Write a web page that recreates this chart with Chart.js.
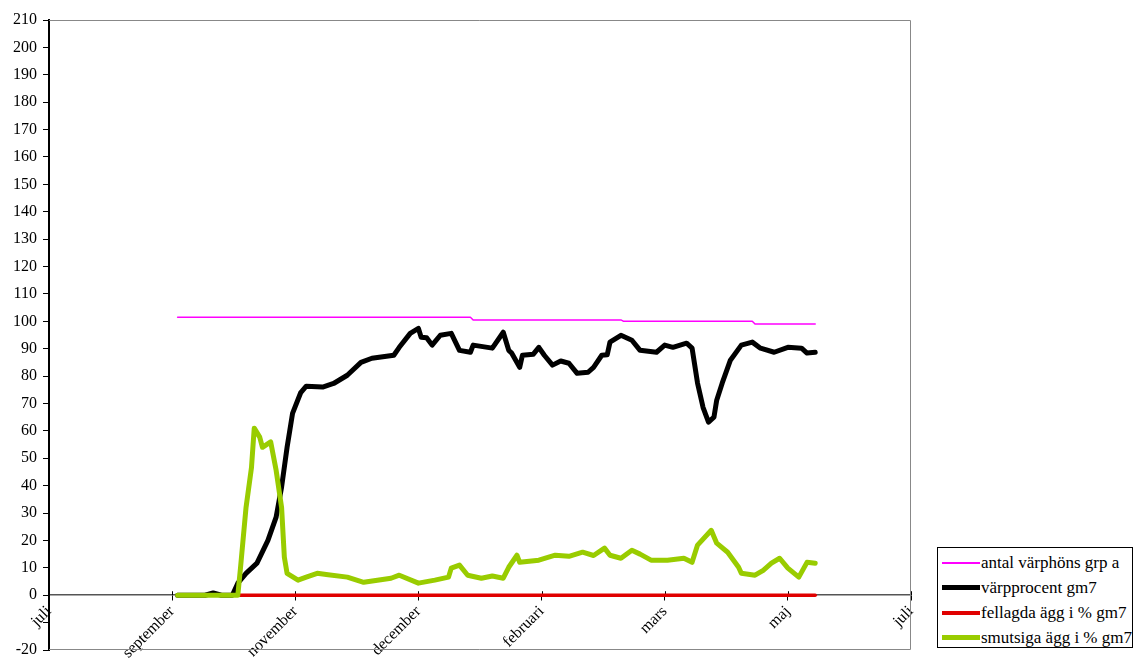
<!DOCTYPE html>
<html lang="sv">
<head>
    <meta charset="UTF-8">
    <title>Värpprocent</title>
    <script src="https://cdn.jsdelivr.net/npm/chart.js"></script>
    <style>
        body { margin: 0; background: #fff; font-family: "Liberation Serif", serif; }
        #wrap { position: relative; width: 1135px; height: 668px; }
        #legend {
            position: absolute; left: 937px; top: 547px; width: 196px; height: 101px;
            border: 1px solid #000; background: #fff; box-sizing: border-box;
            font-family: "Liberation Serif", serif; font-size: 17px; color: #000;
            padding-top: 2px;
        }
        .row { display: flex; align-items: center; height: 25px; white-space: nowrap; }
        .swatch { display: inline-block; width: 38px; margin-left: 4px; margin-right: 1px; }
    </style>
</head>
<body>
    <div id="wrap">
        <canvas id="myChart"></canvas>
        <div id="legend"></div>
    </div>

    <script>
        // x axis: one tick every 45 days
        var tickLabels = ['juli', 'september', 'november', 'december', 'februari', 'mars', 'maj', 'juli'];
        var dayStep = 45;

        var flockDays  = [47, 154, 155, 209, 210, 257, 258, 280];
        var flockCount = [101.5, 101.5, 100.5, 100.5, 100, 100, 99, 99];

        var layDays = [47, 57, 60, 63, 67, 69, 72, 76, 80, 83, 85, 87, 89, 92, 94, 100, 104, 109, 114, 118,
            126, 128, 132, 135, 136, 138, 140, 143, 147, 150, 154, 155, 162, 166, 168, 169, 172, 173, 177, 179,
            181, 184, 187, 190, 193, 197, 199, 202, 204, 205, 209, 213, 216, 222, 225, 228, 233, 235, 237, 239,
            241, 243, 244, 246, 249, 253, 257, 260, 265, 270, 275, 277, 280];
        var layPct = [0, 0, 0.8, 0, 0, 4.4, 8, 11.7, 20, 28.5, 39.5, 54, 66.4, 74, 76.3, 76, 77.3, 80.3, 85, 86.5,
            87.6, 90.5, 95.6, 97.4, 94.2, 94, 91.3, 94.9, 95.6, 89.4, 88.7, 91.3, 90.2, 96, 89.4, 88.5, 83.2, 87.6, 88, 90.5,
            87.6, 84, 85.5, 84.7, 81, 81.4, 83.2, 87.6, 87.8, 92.4, 94.9, 93.1, 89.4, 88.7, 91.3, 90.5, 92, 90.2, 77.4, 68.6,
            63.2, 65, 71.2, 77.4, 85.8, 91.3, 92.4, 90.2, 88.7, 90.5, 90.2, 88.4, 88.7];

        var brokenDays = [47, 280];
        var brokenPct  = [0, 0];

        var dirtyDays = [47, 69, 70, 72, 74, 75, 77, 78, 81, 83, 85, 86, 87, 91, 94, 98, 102, 109, 115, 125,
            128, 135, 141, 146, 147, 150, 153, 158, 162, 166, 168, 171, 172, 179, 185, 190, 195, 199, 203, 205,
            209, 213, 216, 220, 226, 232, 235, 237, 242, 244, 248, 252, 253, 258, 261, 264, 267, 270, 274, 277, 280];
        var dirtyPct = [0, 0, 10.2, 32, 46.7, 61, 57.7, 54, 56, 45.6, 32, 13.9, 8, 5.5, 6.6, 8, 7.5, 6.6, 4.7, 6.2,
            7.3, 4.4, 5.5, 6.6, 9.9, 11, 7.3, 6.2, 7, 6.2, 10.2, 14.6, 12, 12.8, 14.6, 14.2, 15.7, 14.5, 17.2, 14.6,
            13.5, 16.4, 15, 12.8, 12.8, 13.5, 12, 18.3, 23.7, 19, 15.7, 10.2, 8, 7.3, 9.1, 11.7, 13.5, 9.9, 6.6, 12, 11.7];

        function pts(xs, ys) {
            return xs.map(function (x, i) { return { x: x, y: ys[i] }; });
        }

        var serif = "'Liberation Serif', 'DejaVu Serif', serif";
        Chart.defaults.font.family = serif;
        Chart.defaults.font.size = 16;
        Chart.defaults.color = '#000';

        // gray frame round the plot area (left side is the y axis)
        var frame = {
            id: 'frame',
            beforeDatasetsDraw: function (chart) {
                var a = chart.chartArea, c = chart.ctx;
                c.save();
                c.strokeStyle = '#888';
                c.lineWidth = 1;
                c.beginPath();
                c.moveTo(a.left, a.top + 0.5);
                c.lineTo(a.right - 0.5, a.top + 0.5);
                c.lineTo(a.right - 0.5, a.bottom - 0.5);
                c.lineTo(a.left, a.bottom - 0.5);
                c.stroke();
                // small marks above the x axis line as well
                var y0 = chart.scales.y.getPixelForValue(0);
                c.strokeStyle = '#000';
                chart.scales.x.ticks.forEach(function (t) {
                    var px = Math.round(chart.scales.x.getPixelForValue(t.value)) + 0.5;
                    c.beginPath();
                    c.moveTo(px, y0 - 4);
                    c.lineTo(px, y0);
                    c.stroke();
                });
                c.restore();
            }
        };

        var ctx = document.getElementById('myChart').getContext('2d');
        var myChart = new Chart(ctx, {
            type: 'line',
            data: {
                datasets: [
                    { label: 'antal värphöns grp a', data: pts(flockDays, flockCount), borderColor: '#FF00FF', borderWidth: 1.5, order: 4 },
                    { label: 'värpprocent gm7', data: pts(layDays, layPct), borderColor: '#000000', borderWidth: 5, order: 3 },
                    { label: 'fellagda ägg i % gm7', data: pts(brokenDays, brokenPct), borderColor: '#E00000', borderWidth: 3.5, order: 2 },
                    { label: 'smutsiga ägg i % gm7', data: pts(dirtyDays, dirtyPct), borderColor: '#99CC00', borderWidth: 5, order: 1 }
                ]
            },
            options: {
                responsive: true,
                maintainAspectRatio: false,
                animation: false,
                layout: { padding: { left: 0, right: 224, top: 20, bottom: 18 } },
                elements: { point: { radius: 0 }, line: { tension: 0, borderCapStyle: 'round', borderJoinStyle: 'round' } },
                plugins: { legend: { display: false }, tooltip: { enabled: false } },
                scales: {
                    x: {
                        type: 'linear',
                        position: { y: 0 },
                        min: 0,
                        max: tickLabels.length * dayStep - dayStep,
                        afterFit: function (scale) { scale.height = 0; },
                        ticks: {
                            stepSize: dayStep,
                            minRotation: 45,
                            maxRotation: 45,
                            padding: 2,
                            callback: function (v) { return tickLabels[Math.round(v / dayStep)]; }
                        },
                        grid: { drawOnChartArea: false, drawTicks: true, tickLength: 5, color: '#000' },
                        border: { color: '#555', width: 1.5 }
                    },
                    y: {
                        min: -20,
                        max: 210,
                        afterFit: function (scale) { scale.width = 49; },
                        ticks: {
                            stepSize: 10,
                            padding: 6,
                            // the -10 label sits under the first month label in the original
                            color: function (c) { return c.tick && c.tick.value === -10 ? 'rgba(0,0,0,0)' : '#000'; }
                        },
                        grid: { drawOnChartArea: false, drawTicks: true, tickLength: 6, color: '#000' },
                        border: { color: '#000', width: 2 }
                    }
                }
            },
            plugins: [frame]
        });

        // legend box, built from the datasets
        var legend = document.getElementById('legend');
        myChart.data.datasets.forEach(function (ds) {
            var row = document.createElement('div');
            row.className = 'row';
            var sw = document.createElement('span');
            sw.className = 'swatch';
            sw.style.borderTop = Math.round(ds.borderWidth) + 'px solid ' + ds.borderColor;
            row.appendChild(sw);
            row.appendChild(document.createTextNode(ds.label));
            legend.appendChild(row);
        });

        // redraw once the serif face is ready so the canvas text uses it
        if (document.fonts && document.fonts.load) {
            document.fonts.load("16px 'Liberation Serif'").then(function () { myChart.update(); });
        }
    </script>
</body>
</html>
